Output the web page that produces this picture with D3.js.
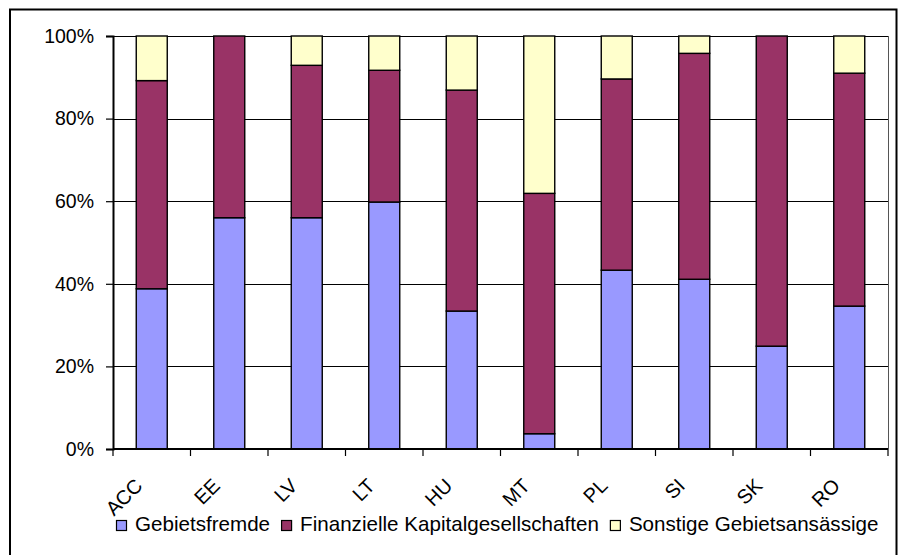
<!DOCTYPE html>
<html>
<head>
<meta charset="utf-8">
<script src="https://cdn.jsdelivr.net/npm/d3@7"></script>
<style>
  html, body { margin: 0; padding: 0; background: #fff; }
  svg { display: block; font-family: "Liberation Sans", Arial, sans-serif; }
</style>
</head>
<body>
<svg id="chart" width="898" height="555"></svg>
<script>
// Country codes along the x axis
const categories = ["ACC", "EE", "LV", "LT", "HU", "MT", "PL", "SI", "SK", "RO"];

// Shares of each holder group, in percent
const gebietsfremde = [38.8, 56.0, 56.0, 59.8, 33.4, 3.7, 43.3, 41.1, 24.9, 34.6];
const finanzielleKapitalgesellschaften = [50.4, 44.0, 36.9, 31.9, 53.5, 58.2, 46.3, 54.7, 75.1, 56.4];
const sonstigeGebietsansaessige = [10.8, 0.0, 7.1, 8.3, 13.1, 38.1, 10.4, 4.2, 0.0, 9.0];

const seriesNames = ["Gebietsfremde", "Finanzielle Kapitalgesellschaften", "Sonstige Gebietsansässige"];
const seriesColors = ["#9999FF", "#993366", "#FFFFCC"];
const yTicks = [0, 20, 40, 60, 80, 100];

const rows = categories.map((c, i) => ({
  cat: c,
  s0: gebietsfremde[i],
  s1: finanzielleKapitalgesellschaften[i],
  s2: sonstigeGebietsansaessige[i]
}));
const stacked = d3.stack().keys(["s0", "s1", "s2"])(rows);

const svg = d3.select("#chart");

// Outer chart frame
svg.append("rect")
  .attr("x", 10).attr("y", 9.5)
  .attr("width", 886.5).attr("height", 560)
  .attr("fill", "none").attr("stroke", "#000").attr("stroke-width", 2);

const plot = { left: 113, right: 888, top: 36, bottom: 449 };

const x = d3.scaleBand().domain(categories)
  .range([plot.left, plot.right]).paddingInner(0.6).paddingOuter(0.3);
const xBand = d3.scaleBand().domain(categories).range([plot.left, plot.right]);
const y = d3.scaleLinear().domain([0, 100]).range([plot.bottom, plot.top]);

// Gridlines
svg.append("g").selectAll("line").data(yTicks.filter(t => t > 0)).join("line")
  .attr("x1", plot.left).attr("x2", plot.right)
  .attr("y1", d => Math.round(y(d)) + 0.5).attr("y2", d => Math.round(y(d)) + 0.5)
  .attr("stroke", "#000").attr("stroke-width", 1);

// Plot area right edge
svg.append("line")
  .attr("x1", plot.right + 0.5).attr("x2", plot.right + 0.5)
  .attr("y1", plot.top).attr("y2", plot.bottom)
  .attr("stroke", "#555").attr("stroke-width", 1);

// Stacked bars
svg.append("g").selectAll("g").data(stacked).join("g")
  .attr("fill", (d, i) => seriesColors[i])
  .selectAll("rect").data(d => d.filter(p => p[1] - p[0] > 0)).join("rect")
  .attr("x", d => x(d.data.cat))
  .attr("width", x.bandwidth())
  .attr("y", d => y(d[1]))
  .attr("height", d => y(d[0]) - y(d[1]))
  .attr("stroke", "#000").attr("stroke-width", 1.4);

// Y axis
const yAxis = d3.axisLeft(y).tickValues(yTicks).tickFormat(d => d + "%").tickSize(7).tickPadding(12);
const gy = svg.append("g").attr("transform", `translate(${plot.left},0)`).call(yAxis);
gy.select(".domain").attr("stroke", "#000").attr("stroke-width", 2);
gy.selectAll(".tick line").attr("stroke", "#000").attr("stroke-width", 1.2);
gy.selectAll(".tick text").attr("font-size", 19.5).attr("fill", "#000")
  .attr("font-family", "Liberation Sans, Arial, sans-serif");

// X axis: ticks at category boundaries
const boundaries = categories.map(c => xBand(c)).concat([plot.right]);
svg.append("line")
  .attr("x1", plot.left).attr("x2", plot.right)
  .attr("y1", plot.bottom).attr("y2", plot.bottom)
  .attr("stroke", "#000").attr("stroke-width", 2);
svg.append("g").selectAll("line").data(boundaries).join("line")
  .attr("x1", d => d).attr("x2", d => d)
  .attr("y1", plot.bottom).attr("y2", plot.bottom + 7)
  .attr("stroke", "#000").attr("stroke-width", 1.2);

// Rotated category labels
svg.append("g").selectAll("text").data(categories).join("text")
  .attr("transform", c => `translate(${xBand(c) + xBand.bandwidth() / 2 - 8},487) rotate(-45)`)
  .attr("text-anchor", "end")
  .attr("font-size", 20)
  .attr("fill", "#000")
  .text(c => c);

// Legend
const legend = svg.append("g");
let lx = 116;
seriesNames.forEach((name, i) => {
  legend.append("rect")
    .attr("x", lx + 0.5).attr("y", 520.5)
    .attr("width", 10).attr("height", 10)
    .attr("fill", seriesColors[i]).attr("stroke", "#000").attr("stroke-width", 1.2);
  const t = legend.append("text")
    .attr("x", lx + 19).attr("y", 531)
    .attr("font-size", 20.6).attr("fill", "#000")
    .text(name);
  lx = lx + 19 + t.node().getComputedTextLength() + 11;
});
</script>
</body>
</html>
